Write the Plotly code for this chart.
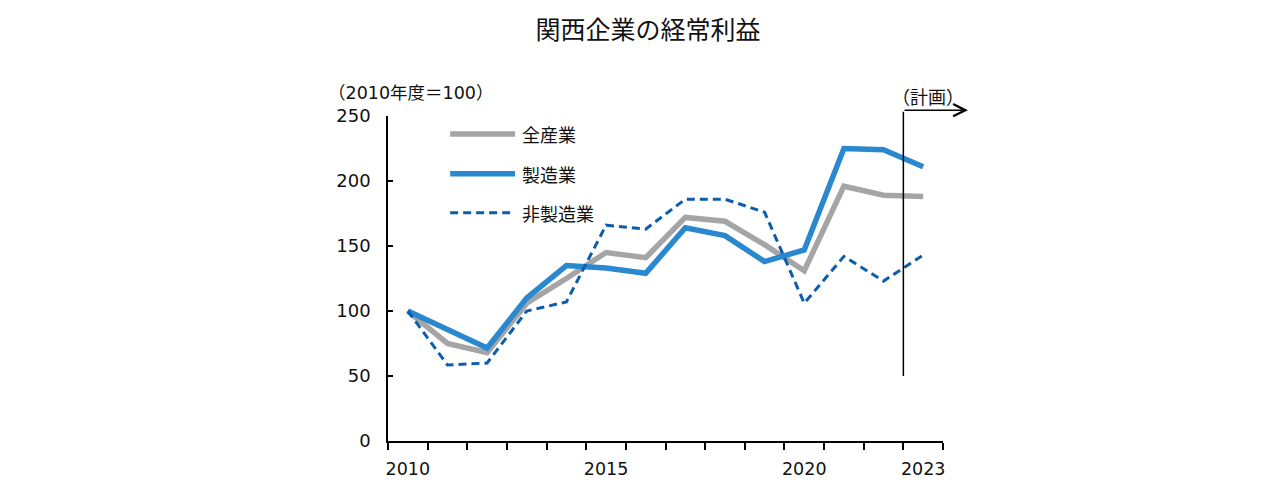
import plotly.graph_objects as go

years = list(range(2010, 2024))
all_industry = [100, 75, 68, 106, 125, 145, 141, 172, 169, 151, 131, 196, 189, 188]
manufacturing = [100, 86, 71.5, 110, 135, 133, 129, 164, 158, 138, 147, 225, 224, 211]
non_manufacturing = [100, 58.5, 60, 100, 107, 166, 163, 186, 186, 176, 106, 142, 123, 143]

series_names = ["全産業", "製造業", "非製造業"]
x_tick_labels = [2010, 2015, 2020, 2023]
y_tick_vals = [0, 50, 100, 150, 200, 250]

GRAY = "#a5a5a5"
BLUE = "#2a88cf"
DARK = "#0c5dac"
TXT = "#111"
FONT = "DejaVu Sans, Noto Sans CJK JP, sans-serif"
JP = "Noto Sans CJK JP, sans-serif"

fig = go.Figure()
fig.add_trace(go.Scatter(x=years, y=all_industry, mode="lines", name=series_names[0],
                         line=dict(color=GRAY, width=5.5)))
fig.add_trace(go.Scatter(x=years, y=manufacturing, mode="lines", name=series_names[1],
                         line=dict(color=BLUE, width=5.5)))
fig.add_trace(go.Scatter(x=years, y=non_manufacturing, mode="lines", name=series_names[2],
                         line=dict(color=DARK, width=3, dash="8px,5px")))

# legend drawn manually (long line samples)
leg = [(series_names[0], GRAY, 5.5, "solid", 0.945),
       (series_names[1], BLUE, 5.5, "solid", 0.822),
       (series_names[2], DARK, 3, "8px,5px", 0.702)]
for name, col, w, d, yy in leg:
    fig.add_shape(type="line", xref="paper", yref="paper", x0=0.112, x1=0.229, y0=yy, y1=yy,
                  line=dict(color=col, width=w, dash=d))
    fig.add_annotation(xref="paper", yref="paper", x=0.238, y=yy, text=name, showarrow=False,
                       xanchor="left", yanchor="middle", font=dict(family=JP, size=18, color=TXT))

# plan marker: vertical line + arrow
fig.add_annotation(x=2022.5, y=50, ax=2022.5, ay=254.5, xref="x", yref="y", axref="x", ayref="y",
                   text="", showarrow=True, arrowhead=0, arrowwidth=1.5, arrowcolor="black",
                   standoff=0, startstandoff=0)
fig.add_annotation(x=1.045, y=1.018, xref="paper", yref="paper", ax=-65, ay=0,
                   text="", showarrow=True, arrowhead=5, arrowsize=1.6, arrowwidth=1.5,
                   arrowcolor="black", standoff=0, startstandoff=0)
fig.add_annotation(xref="paper", yref="paper", x=0.973, y=1.062, text="（計画）", showarrow=False,
                   xanchor="center", yanchor="middle", font=dict(family=JP, size=18, color=TXT))
fig.add_annotation(xref="paper", yref="paper", x=-0.112, y=1.071, text="（2010年度＝100）",
                   showarrow=False, xanchor="left", yanchor="middle",
                   font=dict(family=FONT, size=17.5, color=TXT))

fig.update_layout(
    width=1280, height=500,
    margin=dict(l=380, r=345, t=108, b=67),
    paper_bgcolor="white", plot_bgcolor="white",
    showlegend=False,
    title=dict(text="関西企業の経常利益", x=0.5, xanchor="center", y=0.956, yanchor="middle",
               font=dict(family=JP, size=25, color=TXT)),
    font=dict(family=FONT, color=TXT),
)
fig.update_xaxes(
    range=[2009.5, 2023.5], showgrid=False, zeroline=False,
    showline=True, linecolor="black", linewidth=1.5,
    tickvals=x_tick_labels, ticktext=[str(v) for v in x_tick_labels],
    ticks="", ticklabelstandoff=11,
    tickfont=dict(family=FONT, size=17.5, color=TXT),
    minor=dict(ticks="outside", tick0=2009.5, dtick=1, ticklen=7, tickwidth=1.5, tickcolor="black"),
)
fig.update_yaxes(
    range=[0, 250], showgrid=False, zeroline=False,
    showline=True, linecolor="black", linewidth=1.5,
    tickvals=y_tick_vals, ticks="inside", ticklen=5, tickwidth=1.5, tickcolor="black",
    ticklabelstandoff=12,
    tickfont=dict(family=FONT, size=18, color=TXT),
)

fig.write_html("out.html")
